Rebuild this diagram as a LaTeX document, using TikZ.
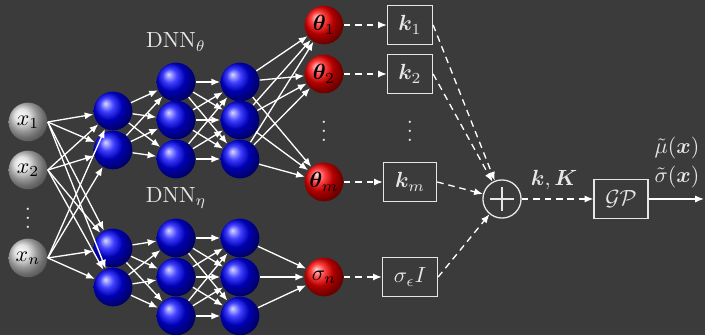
\documentclass[tikz,border=0pt]{standalone}
\usepackage{amsmath,amssymb,bm}
\usetikzlibrary{arrows.meta}
\definecolor{fond}{HTML}{3B3B3B}
\definecolor{trait}{HTML}{E6E6E6}
\newcommand{\boule}[4]{\node[neurone,ball color=#2] (#1) at (#3) {#4}}
\newcommand{\boite}[4]{\node[bloc,minimum width=#2] (#1) at (#3) {#4}}
\newcommand{\relie}[2]{\foreach \a in {#1} \foreach \b in {#2} \draw[fleche] (\a) -- (\b);}

\begin{document}
\begin{tikzpicture}[x=0.016cm,y=-0.016cm,
	epais/.style={line width=0.6pt},
	neurone/.style={circle,shading=ball,minimum size=0.62cm,inner sep=0pt,text=black},
	bloc/.style={draw=trait,epais,minimum height=0.63cm,inner sep=1pt,text=trait},
	fleche/.style={draw=white,epais,-{Latex[length=4pt,width=3.2pt]}},
	tiret/.style={fleche,dash pattern=on 3pt off 2.2pt},
	etiq/.style={text=trait,inner sep=0.5pt}]
	\fill[fond] (0,0) rectangle (705,335);
	\useasboundingbox (0,0) rectangle (705,335);
	\boule{x1}{gray!30}{28,122}{$x_1$};
	\boule{x2}{gray!30}{28,170}{$x_2$};
	\boule{xn}{gray!30}{28,258}{$x_n$};
	\node[etiq] (dx) at (28,212) {$\vdots$};
	\boule{a1}{blue}{113,111}{};
	\boule{a2}{blue}{113,150}{};
	\boule{b1}{blue}{176,82}{};
	\boule{b2}{blue}{176,120}{};
	\boule{b3}{blue}{176,159}{};
	\boule{c1}{blue}{240,82}{};
	\boule{c2}{blue}{240,120}{};
	\boule{c3}{blue}{240,159}{};
	\boule{d1}{blue}{113,248}{};
	\boule{d2}{blue}{113,287}{};
	\boule{e1}{blue}{176,238}{};
	\boule{e2}{blue}{176,277}{};
	\boule{e3}{blue}{176,316}{};
	\boule{f1}{blue}{240,238}{};
	\boule{f2}{blue}{240,277}{};
	\boule{f3}{blue}{240,316}{};
	\boule{t1}{red}{324,25}{$\boldsymbol{\theta}_1$};
	\boule{t2}{red}{324,74}{$\boldsymbol{\theta}_2$};
	\boule{tm}{red}{324,182}{$\boldsymbol{\theta}_m$};
	\boule{sn}{red}{324,277}{$\sigma_n$};
	\node[etiq] (dt) at (324,125) {$\vdots$};
	\node[etiq] (nt) at (176,42) {DNN$_\theta$};
	\node[etiq] (ne) at (176,198) {DNN$_\eta$};
	\boite{k1}{0.72cm}{410,25}{$\boldsymbol{k}_1$};
	\boite{k2}{0.72cm}{410,74}{$\boldsymbol{k}_2$};
	\boite{km}{0.85cm}{410,182}{$\boldsymbol{k}_m$};
	\boite{se}{0.88cm}{410,277}{$\sigma_\epsilon I$};
	\node[etiq] (dk) at (410,125) {$\vdots$};
	\node[circle,draw=trait,epais,minimum size=0.61cm] (plus) at (502,199) {};
	\draw[trait,epais] (plus.center) ++(-12,0) --++ (24,0);
	\draw[trait,epais] (plus.center) ++(0,-12) --++ (0,24);
	\boite{gp}{0.86cm}{621,199}{$\mathcal{GP}$};
	\coordinate (out) at (704,199);
	\foreach \a in {x1,x2,xn} \foreach \b in {a1,a2,d1,d2} \draw[fleche] (\a.east) -- (\b);
	\relie{a1,a2}{b1,b2,b3}
	\relie{b1,b2,b3}{c1,c2,c3}
	\relie{c1,c2,c3}{t1,t2,tm}
	\relie{d1,d2}{e1,e2,e3}
	\relie{e1,e2,e3}{f1,f2,f3}
	\relie{f1,f2,f3}{sn}
	\draw[tiret] (t1) -- (k1);
	\draw[tiret] (t2) -- (k2);
	\draw[tiret] (tm) -- (km);
	\draw[tiret] (sn) -- (se);
	\draw[tiret] (k1.east) -- (plus);
	\draw[tiret] (k2.east) -- (plus);
	\draw[tiret] (km.east) -- (plus);
	\draw[tiret] (se.east) -- (plus);
	\draw[tiret] (plus) -- (gp);
	\draw[fleche] (gp) -- (out);
	\node[etiq] (kk) at (554,180) {$\boldsymbol{k},\boldsymbol{K}$};
	\node[etiq] (mu) at (677,148) {$\tilde{\mu}(\boldsymbol{x})$};
	\node[etiq] (sg) at (677,177) {$\tilde{\sigma}(\boldsymbol{x})$};
\end{tikzpicture}
\end{document}
